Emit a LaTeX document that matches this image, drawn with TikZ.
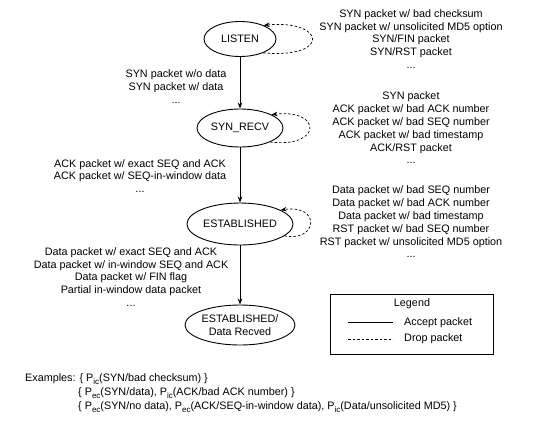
\documentclass[tikz,border=0pt]{standalone}
\usepackage{fontspec}
\setmainfont{Liberation Sans}
\usetikzlibrary{arrows.meta,shapes.geometric}
\newcommand{\sbs}[1]{\raisebox{-2.6pt}{\fontsize{8}{8}\selectfont #1}}
\begin{document}
\begin{tikzpicture}[x=1pt,y=-1pt,
  every node/.style={font=\fontsize{10.8}{12.8}\selectfont},
  state/.style={ellipse,draw,line width=0.9pt,inner sep=0pt,align=center},
  lbl/.style={align=center,inner sep=0pt},
  accept/.style={line width=0.8pt,-{Stealth[length=6pt,width=4.5pt]}},
  drop/.style={line width=0.7pt,dash pattern=on 2.5pt off 2pt,-{Stealth[length=6pt,width=4.5pt]}},
]
\useasboundingbox (0,0) rectangle (533,432);
% states
\node[state,minimum width=72pt,minimum height=35pt] (listen) at (240,39) {LISTEN};
\node[state,minimum width=86pt,minimum height=38pt] (synrecv) at (240,128) {SYN\_RECV};
\node[state,minimum width=106pt,minimum height=42pt] (estab) at (240,224) {ESTABLISHED};
\node[state,minimum width=110pt,minimum height=40pt] (recv) at (240,325) {ESTABLISHED/\\Data Recved};
% accept transitions
\draw[accept] (listen) -- (synrecv);
\draw[accept] (synrecv) -- (estab);
\draw[accept] (estab) -- (recv);
% self loops (drop)
\draw[drop] (listen.-31) .. controls +(68,6) and +(62,-6) .. (listen.30);
\draw[drop] (synrecv.-25) .. controls +(53,6) and +(50,-6) .. (synrecv.23);
\draw[drop] (estab.-15) .. controls +(34,6) and +(40,-6) .. (estab.19);
% labels right
\node[lbl] (r1) at (411,39) {SYN packet w/ bad checksum\\SYN packet w/ unsolicited MD5 option\\SYN/FIN packet\\SYN/RST packet\\...};
\node[lbl] (r2) at (411,128) {SYN packet\\ACK packet w/ bad ACK number\\ACK packet w/ bad SEQ number\\ACK packet w/ bad timestamp\\ACK/RST packet\\...};
\node[lbl] (r3) at (411,222) {Data packet w/ bad SEQ number\\Data packet w/ bad ACK number\\Data packet w/ bad timestamp\\RST packet w/ bad SEQ number\\RST packet w/ unsolicited MD5 option\\...};
% labels left
\node[lbl] (l1) at (176,86.5) {SYN packet w/o data\\SYN packet w/ data\\...};
\node[lbl] (l2) at (140,176) {ACK packet w/ exact SEQ and ACK\\ACK packet w/ SEQ-in-window data\\...};
\node[lbl] (l3) at (131,277) {Data packet w/ exact SEQ and ACK\\Data packet w/ in-window SEQ and ACK\\Data packet w/ FIN flag\\Partial in-window data packet\\...};
% legend
\node[draw,line width=0.8pt,minimum width=163pt,minimum height=60pt,inner sep=0pt] (legend) at (411.5,324) {};
\node[lbl] (legtitle) at (412,304) {Legend};
\coordinate (a1) at (348,322);
\coordinate (a2) at (393,322);
\coordinate (d1) at (348,339);
\coordinate (d2) at (393,339);
\draw[line width=0.8pt] (a1) -- (a2);
\draw[line width=0.7pt,dash pattern=on 2.5pt off 2pt] (d1) -- (d2);
\node[lbl,anchor=west] (acc) at (404,323) {Accept packet};
\node[lbl,anchor=west] (drp) at (404,339) {Drop packet};
% examples
\node[lbl,anchor=west] (ex1) at (25,379) {Examples: \{ P\sbs{ic}(SYN/bad checksum) \}};
\node[lbl,anchor=west] (ex2) at (78,393) {\{ P\sbs{ec}(SYN/data), P\sbs{ic}(ACK/bad ACK number) \}};
\node[lbl,anchor=west] (ex3) at (78,407) {\{ P\sbs{ec}(SYN/no data), P\sbs{ec}(ACK/SEQ-in-window data), P\sbs{ic}(Data/unsolicited MD5) \}};
\end{tikzpicture}
\end{document}
